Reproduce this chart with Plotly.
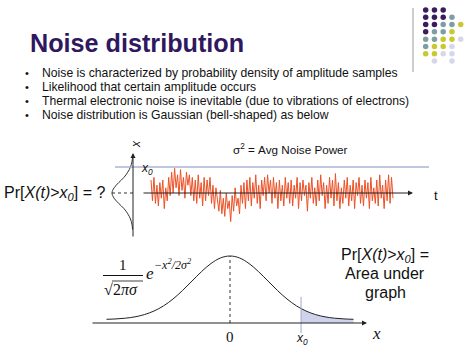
import numpy as np
import plotly.graph_objects as go

W, H = 474, 355

# ---------------- data ----------------
title_text = "Noise distribution"
bullets = [
    "Noise is characterized by probability density of amplitude samples",
    "Likelihood that certain amplitude occurs",
    "Thermal electronic noise is inevitable (due to vibrations of electrons)",
    "Noise distribution is Gaussian (bell-shaped) as below",
]

# noise amplitude samples (units: threshold x0 = 1.0)
noise_a = [0.5, -0.3, 0.6, -0.4, 0.3, -0.5, 0.4, -0.2, 0.5, -0.6, 0.2, -0.3, 0.6, -0.1]
noise_b = [0.8, 0.0, 0.95, 0.2, 0.7, -0.1, 0.9, 0.1, 0.6, -0.2, 0.8, 0.3, 0.7, -0.1]
noise_c = [0.6, -0.3, 0.5, -0.4, 0.7, -0.2, 0.4, -0.5, 0.6, -0.3, 0.5, -0.1, 0.6, -0.4, 0.3, -0.6, 0.2]
noise_d = [-0.3, -0.7, 0.1, -0.8, -0.2, -0.9, 0.0, -0.6, -0.3, -1.1, -0.1, -0.7, 0.2, -0.5, -0.2, -0.8,
           0.3, -0.4, 0.4, -0.6]
noise_e = [0.5, -0.3, 0.6, -0.5, 0.4, -0.2, 0.7, -0.4, 0.3, -0.6, 0.5, -0.1, 0.6, -0.3, 0.7, 0.0, 0.5,
           -0.4, 0.6, -0.2, 0.4, -0.6, 0.5, -0.3, 0.3, -0.5, 0.6, -0.2, 0.4, -0.4]
noise_f = [0.5, -0.5, 0.3, -0.2, 0.6, -0.6, 0.4, -0.3, 0.5, -0.1, 0.3, -0.7, 0.4, -0.2, 0.6, -0.4, 0.2,
           -0.5, 0.5, -0.3, 0.7, -0.1, 0.4, -0.6, 0.3, -0.4, 0.6, -0.2, 0.5, -0.5, 0.75, -0.3, 0.4, -0.6,
           0.2, -0.4, 0.5, -0.2, 0.6, -0.5, 0.3, -0.3, 0.5, -0.6, 0.4, -0.1, 0.6, -0.4, 0.3, -0.5, 0.5,
           -0.2, 0.4, -0.6, 0.6, -0.3, 0.2, -0.4, 0.5, -0.5, 0.7, -0.2, 0.3, -0.6, 0.5, -0.3, 0.7, -0.4,
           0.6, -0.2]
noise = noise_a + noise_b + noise_c + noise_d + noise_e + noise_f
threshold = 1.0

# small sideways density (amplitude, fraction of peak)
side_amp = [-1.4, -1.2, -1.0, -0.8, -0.6, -0.4, -0.2, 0.0, 0.2, 0.4, 0.6, 0.8, 1.0, 1.2, 1.4]
side_den = [0.02, 0.05, 0.12, 0.25, 0.43, 0.68, 0.90, 1.0, 0.90, 0.68, 0.43, 0.25, 0.12, 0.05, 0.02]

# bottom bell curve (x in sigma units, height relative to peak)
bell_x = [-3.25, -3.0, -2.75, -2.5, -2.25, -2.0, -1.75, -1.5, -1.25, -1.0, -0.75, -0.5, -0.25, 0.0,
          0.25, 0.5, 0.75, 1.0, 1.25, 1.5, 1.75, 2.0, 2.25, 2.5, 2.75, 3.0, 3.25]
bell_h = [0.055, 0.061, 0.072, 0.092, 0.126, 0.179, 0.255, 0.358, 0.485, 0.626, 0.767, 0.888, 0.971, 1.0,
          0.971, 0.888, 0.767, 0.626, 0.485, 0.358, 0.255, 0.179, 0.126, 0.092, 0.072, 0.061, 0.055]
x0_level = 1.87

# decorative dot grid
dot_rows = [0, 0, 0, 1, 1, 1, 1, 2, 2, 2, 2, 2, 3, 3, 3, 3, 4, 4, 4, 4, 4, 5, 5, 5, 5, 6, 6, 6, 6, 7, 7]
dot_cols = [0, 1, 2, 0, 1, 2, 3, 0, 1, 2, 3, 4, 0, 1, 2, 3, 0, 1, 2, 3, 4, 0, 1, 2, 3, 0, 1, 2, 3, 1, 3]
dot_kind = ["P", "P", "P", "P", "P", "P", "T", "P", "P", "T", "T", "Y", "P", "T", "T", "Y",
            "T", "T", "Y", "Y", "L", "T", "Y", "Y", "L", "Y", "Y", "L", "L", "L", "L"]
dot_palette = {"P": "#3b1d5e", "T": "#7e9ea6", "Y": "#c8c92e", "L": "#d6d7ea"}

# ---------------- layout helpers ----------------
def px(x):
    return x / W

def py(y):
    return 1 - y / H

SANS = "Liberation Sans, Arial, sans-serif"
SERIF = "Liberation Serif, Times New Roman, serif"

fig = go.Figure()

# noise subplot
N = len(noise)
s = (393 - 151) / (N - 1)
t = np.arange(N)
fig.add_trace(go.Scatter(x=t, y=noise, mode="lines", line=dict(color="#ec5127", width=1),
                         xaxis="x", yaxis="y", hoverinfo="skip", showlegend=False))

# sideways density
fig.add_trace(go.Scatter(x=side_den, y=side_amp, mode="lines", line=dict(color="#333", width=1, shape="spline"),
                         xaxis="x3", yaxis="y3", hoverinfo="skip", showlegend=False))

# bottom bell
bx = np.array(bell_x)
bh = np.array(bell_h)
mask = bx > x0_level
sx = np.concatenate([[x0_level], bx[mask]])
sh = np.concatenate([[np.interp(x0_level, bx, bh)], bh[mask]])
fig.add_trace(go.Scatter(x=sx, y=sh, mode="lines", fill="tozeroy", fillcolor="#cfd2ec",
                         line=dict(width=0, shape="spline"), xaxis="x2", yaxis="y2",
                         hoverinfo="skip", showlegend=False))
fig.add_trace(go.Scatter(x=bell_x, y=bell_h, mode="lines", line=dict(color="#222", width=1, shape="spline"),
                         xaxis="x2", yaxis="y2", hoverinfo="skip", showlegend=False))

# dots
fig.add_trace(go.Scatter(x=dot_cols, y=dot_rows, mode="markers",
                         marker=dict(size=5.5, color=[dot_palette[k] for k in dot_kind], line=dict(width=0)),
                         xaxis="x4", yaxis="y4", hoverinfo="skip", showlegend=False))

ax_off = dict(visible=False, showgrid=False, zeroline=False)
y1_dom = [py(240), py(145)]
y1_rng = [(193 - 240) / 26, (193 - 145) / 26]
fig.update_layout(
    width=W, height=H, margin=dict(l=0, r=0, t=0, b=0),
    paper_bgcolor="white", plot_bgcolor="rgba(0,0,0,0)",
    xaxis=dict(domain=[px(109), px(441)], range=[-(151 - 109) / s, (N - 1) + (441 - 393) / s], **ax_off),
    yaxis=dict(domain=y1_dom, range=y1_rng, **ax_off),
    xaxis3=dict(domain=[px(105), px(135)], range=[(133 - 105) / 21, (133 - 135) / 21], **ax_off),
    yaxis3=dict(domain=y1_dom, range=y1_rng, **ax_off),
    xaxis2=dict(domain=[px(85), px(385)], range=[(85 - 230) / 38, (385 - 230) / 38], **ax_off),
    yaxis2=dict(domain=[py(340), py(245)], range=[(323 - 340) / 67, (323 - 245) / 67], **ax_off),
    xaxis4=dict(domain=[px(421.3), px(465.1)], range=[-0.5, 4.5], **ax_off),
    yaxis4=dict(domain=[py(64.6), py(6.4)], range=[7.5, -0.5], **ax_off),
)

shapes = []
shapes.append(dict(type="line", xref="paper", yref="y", x0=px(115), x1=px(429), y0=threshold, y1=threshold,
                   line=dict(color="#a9b5d5", width=1.5)))
shapes.append(dict(type="line", xref="x3", yref="y3", x0=0, x1=max(side_den), y0=0, y1=0,
                   line=dict(color="#333", width=1, dash="dot")))
shapes.append(dict(type="line", xref="x2", yref="y2", x0=0, x1=0, y0=0, y1=max(bell_h),
                   line=dict(color="#333", width=1, dash="dot")))
shapes.append(dict(type="line", xref="x2", yref="y2", x0=x0_level, x1=x0_level, y0=-0.15, y1=0.39,
                   line=dict(color="#a0a8c8", width=1)))
shapes.append(dict(type="line", xref="paper", yref="paper", x0=px(413), x1=px(413), y0=py(8), y1=py(72),
                   line=dict(color="#bdbdbd", width=1.5)))
shapes.append(dict(type="line", xref="paper", yref="paper", x0=px(103), x1=px(143), y0=py(275.5), y1=py(275.5),
                   line=dict(color="#111", width=1)))
shapes.append(dict(type="line", xref="paper", yref="paper", x0=px(112), x1=px(143), y0=py(281), y1=py(281),
                   line=dict(color="#111", width=0.8)))
fig.update_layout(shapes=shapes)

ann = []
def text(x, y, s_, size, color="#111", family=SANS, xanchor="center", yanchor="middle", angle=0):
    ann.append(dict(x=px(x), y=py(y), xref="paper", yref="paper", text=s_, showarrow=False,
                    font=dict(size=size, color=color, family=family), xanchor=xanchor, yanchor=yanchor,
                    textangle=angle, borderpad=0))

def arrow(hx, hy, dx, dy):
    ann.append(dict(x=px(hx), y=py(hy), xref="paper", yref="paper", ax=dx, ay=dy, axref="pixel", ayref="pixel",
                    text="", showarrow=True, arrowhead=2, arrowsize=1, arrowwidth=1, arrowcolor="#222"))

text(29, 43, "<b>" + title_text + "</b>", 25.2, color="#2f1860", xanchor="left")
rows_y = [73, 87, 101, 115]
for yy, b in zip(rows_y, bullets):
    text(27, yy, "•", 11, xanchor="center")
    text(41, yy, b, 12.2, xanchor="left")

text(290, 149, "σ<sup>2</sup> = Avg Noise Power", 11.7)
text(436, 195, "t", 13)
text(136, 144, "<i>x</i>", 12, angle=-90)
text(140, 169, "<i>x<sub>0</sub></i>", 12, xanchor="left")
text(3, 193, "Pr[<i>X(t)</i>&gt;<i>x<sub>0</sub></i>] = ?", 16, xanchor="left")

text(385, 255, "Pr[<i>X(t)</i>&gt;<i>x<sub>0</sub></i>] =", 16)
text(385, 273, "Area under", 16)
text(385, 292, "graph", 16)

text(123, 265, "1", 15, family=SERIF)
text(103, 289, "√", 16, family=SERIF, xanchor="left")
text(112, 289, "2<i>πσ</i>", 16, family=SERIF, xanchor="left")
text(145, 273, "<i>e</i>", 17, family=SERIF, xanchor="left")
text(153, 264, "<i>−x<sup>2</sup>/2σ<sup>2</sup></i>", 12, family=SERIF, xanchor="left")

text(230, 337, "0", 15, family=SERIF)
text(302, 339, "<i>x<sub>0</sub></i>", 12)
text(376, 333, "<i>x</i>", 17, family=SERIF)

arrow(413, 193, -271, 0)
arrow(133, 153, 0, 85)
arrow(367, 323, -276, 0)

fig.update_layout(annotations=ann)
fig.write_html("out.html", config={"displayModeBar": False},
               post_script="document.body.style.margin='0';document.body.style.overflow='hidden';")
